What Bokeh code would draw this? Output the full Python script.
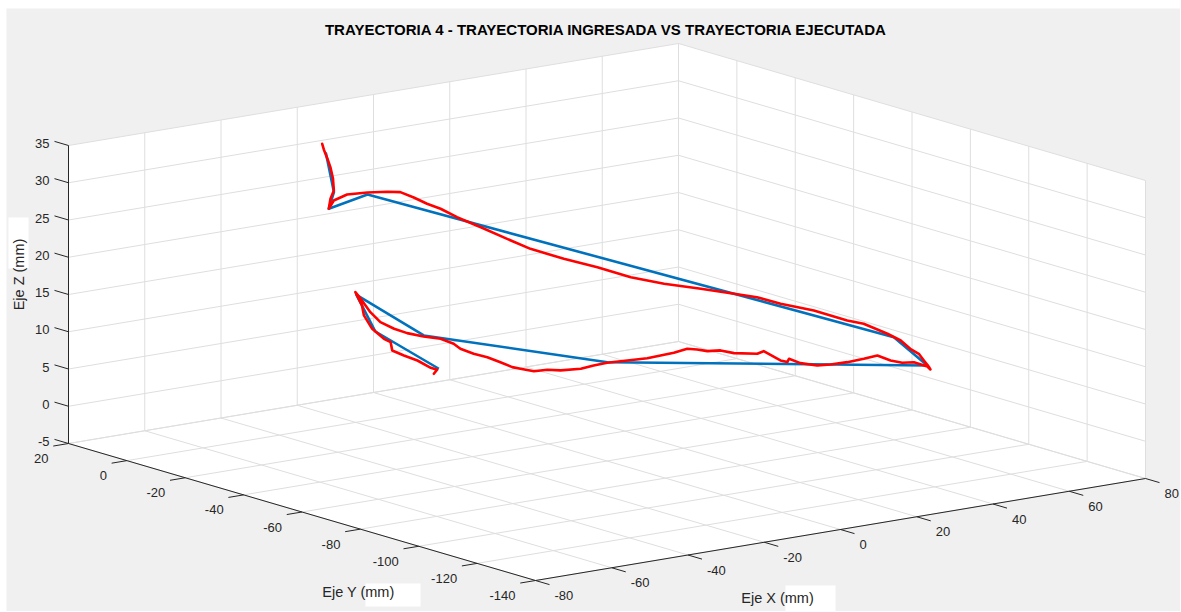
import numpy as np
from bokeh.plotting import figure
from bokeh.models import Range1d
from bokeh.core.properties import value
from bokeh.embed import file_html
from bokeh.resources import INLINE

# ---------------- data ----------------
TITLE = "TRAYECTORIA 4 - TRAYECTORIA INGRESADA VS TRAYECTORIA EJECUTADA"
X_LABEL = "Eje X (mm)"
Y_LABEL = "Eje Y  (mm)"
Z_LABEL = "Eje Z  (mm)"

X_TICKS = [-80, -60, -40, -20, 0, 20, 40, 60, 80]
Y_TICKS = [-140, -120, -100, -80, -60, -40, -20, 0, 20]
Z_TICKS = [-5, 0, 5, 10, 15, 20, 25, 30, 35]

# entered trajectory (waypoints)
ref_x = [-32.5, -32.5, -30.1, -24.0, 63.3, 74.0, 22.4, -5.8, -19.4, -20.1, -9.5]
ref_y = [-6.1, -8.9, -4.0, -9.3, -75.6, -73.1, -30.9, -4.8, 0.5, -6.9, -14.8]
ref_z = [33, 28, 25, 27, 8, 3, 3, 6, 12, 8, 3]

# executed trajectory
exe_x = [-30.3, -31.1, -31.4, -31.6, -31.3, -31.6, -30.5, -30.1, -28.8, -25.3,
         -22.9, -16.2, -12.1, -10.8, -10.0, -8.9, -8.4, -6.3, -4.3, -2.7,
         2.3, 8.2, 13.2, 20.1, 28.9, 36.7, 42.4, 46.0, 52.8, 57.8,
         61.2, 63.3, 65.1, 67.9, 70.3, 72.4, 73.3, 72.2, 73.4, 73.6,
         71.3, 70.7, 71.3, 67.2, 62.5, 58.4, 55.6, 54.1, 54.7, 52.5,
         52.3, 54.8, 52.2, 48.7, 48.0, 45.4, 44.6, 43.4, 38.9, 35.1,
         31.3, 26.7, 22.0, 17.4, 12.5, 6.5, 3.8, -0.1, -1.8, -3.1,
         -2.7, -3.3, -4.5, -4.7, -3.4, -3.6, -6.4, -13.6, -18.4, -22.0,
         -21.8, -19.2, -18.0, -19.4, -20.5, -20.4, -19.0, -17.7, -17.9, -16.3,
         -13.9, -12.0, -10.8, -11.5]
exe_y = [-2.0, -3.6, -5.2, -6.5, -7.0, -7.7, -5.1, -4.0, -4.0, -4.0,
         -7.8, -5.9, -5.0, -7.9, -11.4, -14.6, -19.6, -25.0, -31.4, -37.3,
         -42.2, -46.0, -50.9, -53.3, -54.4, -55.6, -56.0, -59.4, -61.9, -66.8,
         -68.0, -73.4, -75.6, -75.2, -75.0, -74.0, -74.6, -76.5, -73.9, -69.0,
         -68.0, -64.8, -59.5, -60.2, -60.7, -60.3, -59.4, -55.6, -50.9, -53.2,
         -51.1, -42.1, -43.3, -39.9, -36.2, -35.1, -32.6, -30.8, -32.1, -32.5,
         -32.9, -32.1, -31.3, -32.7, -34.7, -35.6, -34.6, -35.1, -32.7, -31.6,
         -27.0, -23.3, -20.2, -15.9, -11.9, -7.7, -5.5, -9.3, -11.1, -11.1,
         -7.4, -0.7, 2.7, -1.4, -3.5, -6.2, -8.4, -9.0, -9.8, -11.7,
         -13.2, -15.3, -15.9, -15.7]
exe_z = [33.5, 33, 32, 31, 29.5, 28, 26.5, 25, 26, 26.5,
         27, 26.3, 25.8, 25.3, 24.8, 24.4, 23.8, 22.9, 21.9, 21.1,
         19.9, 18.7, 17.5, 16.3, 15.0, 13.8, 12.9, 12.1, 10.9, 9.7,
         9.1, 8.2, 7.4, 6.0, 5.1, 3.9, 3.0, 3.0, 3, 3,
         3, 3, 3, 3, 3, 3, 3, 3, 3, 3,
         3, 3, 3, 3, 3, 3, 3, 3, 3, 3,
         3, 3, 3, 3.2, 3.4, 3.8, 4.0, 4.2, 4.4, 4.6,
         4.7, 5.0, 5.2, 5.4, 5.5, 5.7, 6.0, 7.5, 8.7, 9.9,
         10.8, 11.6, 12, 10.8, 9.8, 8.3, 7.1, 6.6, 5.6, 5.0,
         4.3, 3.4, 3.1, 2.6]

XLIM = (-80, 80)
YLIM = (-140, 20)
ZLIM = (-5, 35)

# ---------------- view geometry (pixels) ----------------
W, H = 1180, 611
ORIGIN = (535.0, 580.0)      # screen position of (xmin, ymin, zmin)
VX = (610.0, -102.0)         # screen vector spanning the x range
VY = (-467.0, -137.0)        # screen vector spanning the y range
VZ = (0.0, -298.0)           # screen vector spanning the z range


def proj(x, y, z):
    x = np.asarray(x, float)
    y = np.asarray(y, float)
    z = np.asarray(z, float)
    fx = (x - XLIM[0]) / (XLIM[1] - XLIM[0])
    fy = (y - YLIM[0]) / (YLIM[1] - YLIM[0])
    fz = (z - ZLIM[0]) / (ZLIM[1] - ZLIM[0])
    sx = ORIGIN[0] + VX[0] * fx + VY[0] * fy + VZ[0] * fz
    sy = ORIGIN[1] + VX[1] * fx + VY[1] * fy + VZ[1] * fz
    return sx, sy


def seg(p, q):
    a = proj(*p)
    b = proj(*q)
    return [float(a[0]), float(b[0])], [float(a[1]), float(b[1])]


p = figure(width=W, height=H, output_backend="svg", toolbar_location=None,
           x_range=Range1d(0, W), y_range=Range1d(H, 0),
           x_axis_type=None, y_axis_type=None, min_border=0)
p.outline_line_color = None
p.background_fill_color = "white"
p.border_fill_color = "white"
p.grid.visible = False

# figure background (light gray, with thin white margin at top/left)
p.quad(left=[6], right=[W], top=[8], bottom=[H], fill_color="#f0f0f0", line_color=None)

x0, x1 = XLIM
y0, y1 = YLIM
z0, z1 = ZLIM

# panes
panes = [
    [(x0, y0, z0), (x1, y0, z0), (x1, y1, z0), (x0, y1, z0)],
    [(x0, y1, z0), (x1, y1, z0), (x1, y1, z1), (x0, y1, z1)],
    [(x1, y0, z0), (x1, y1, z0), (x1, y1, z1), (x1, y0, z1)],
]
pxs, pys = [], []
for pane in panes:
    sx, sy = proj(*zip(*pane))
    pxs.append(list(sx))
    pys.append(list(sy))
p.patches(pxs, pys, fill_color="white", line_color=None)

# grid lines
gx, gy = [], []
for xt in X_TICKS:
    for a, b in [((xt, y0, z0), (xt, y1, z0)), ((xt, y1, z0), (xt, y1, z1))]:
        sx, sy = seg(a, b); gx.append(sx); gy.append(sy)
for yt in Y_TICKS:
    for a, b in [((x0, yt, z0), (x1, yt, z0)), ((x1, yt, z0), (x1, yt, z1))]:
        sx, sy = seg(a, b); gx.append(sx); gy.append(sy)
for zt in Z_TICKS:
    for a, b in [((x0, y1, zt), (x1, y1, zt)), ((x1, y0, zt), (x1, y1, zt))]:
        sx, sy = seg(a, b); gx.append(sx); gy.append(sy)
p.multi_line(gx, gy, line_color="#dedede", line_width=1)

# axis lines + ticks
AX = "#262626"
ax_x, ax_y = [], []
for a, b in [((x0, y0, z0), (x1, y0, z0)), ((x0, y0, z0), (x0, y1, z0)),
             ((x0, y1, z0), (x0, y1, z1))]:
    sx, sy = seg(a, b); ax_x.append(sx); ax_y.append(sy)
TL_X = 0.03 * (YLIM[1] - YLIM[0])
TL_Y = 0.025 * (XLIM[1] - XLIM[0])
TL_Z = 0.03 * (YLIM[1] - YLIM[0])
for xt in X_TICKS:
    sx, sy = seg((xt, y0, z0), (xt, y0 - TL_X, z0)); ax_x.append(sx); ax_y.append(sy)
for yt in Y_TICKS:
    sx, sy = seg((x0, yt, z0), (x0 - TL_Y, yt, z0)); ax_x.append(sx); ax_y.append(sy)
for zt in Z_TICKS:
    sx, sy = seg((x0, y1, zt), (x0, y1 + TL_Z, zt)); ax_x.append(sx); ax_y.append(sy)
p.multi_line(ax_x, ax_y, line_color=AX, line_width=1)

# trajectories
rx, ry = proj(ref_x, ref_y, ref_z)
ex, ey = proj(exe_x, exe_y, exe_z)
p.line(rx, ry, line_color="#0072bd", line_width=2.6, line_join="round")
p.line(ex, ey, line_color="#ff0000", line_width=2.6, line_join="round", line_cap="round")

FONT = value("Liberation Sans")
TS = value("13px")

# tick labels
sx, sy = proj(X_TICKS, [y0] * len(X_TICKS), [z0] * len(X_TICKS))
p.text(sx + 19, sy + 15, text=[str(t) for t in X_TICKS], text_font=FONT,
       text_font_size=TS, text_color=AX, text_align="left", text_baseline="middle")
sx, sy = proj([x0] * len(Y_TICKS), Y_TICKS, [z0] * len(Y_TICKS))
p.text(sx - 20, sy + 15, text=[str(t) for t in Y_TICKS], text_font=FONT,
       text_font_size=TS, text_color=AX, text_align="right", text_baseline="middle")
sx, sy = proj([x0] * len(Z_TICKS), [y1] * len(Z_TICKS), Z_TICKS)
p.text(sx - 19, sy - 2, text=[str(t) for t in Z_TICKS], text_font=FONT,
       text_font_size=TS, text_color=AX, text_align="right", text_baseline="middle")

# white boxes behind the axis labels (as in the source image)
p.quad(left=[8, 365, 785], right=[28, 420, 835], top=[217, 583, 585],
       bottom=[268, 606, 612], fill_color="white", line_color=None)

LS = value("14.5px")
p.text([360], [591], text=[Y_LABEL], text_font=FONT, text_font_size=LS,
       text_color=AX, text_align="center", text_baseline="middle")
p.text([777], [597], text=[X_LABEL], text_font=FONT, text_font_size=LS,
       text_color=AX, text_align="center", text_baseline="middle")
p.text([18], [272], text=[Z_LABEL], text_font=FONT, text_font_size=LS,
       text_color=AX, text_align="center", text_baseline="middle", angle=np.pi / 2)

p.text([606], [29], text=[TITLE], text_font=FONT, text_font_size=value("15px"),
       text_font_style="bold", text_color="#000000", text_align="center",
       text_baseline="middle")

open("out.html", "w").write(file_html(p, INLINE))
